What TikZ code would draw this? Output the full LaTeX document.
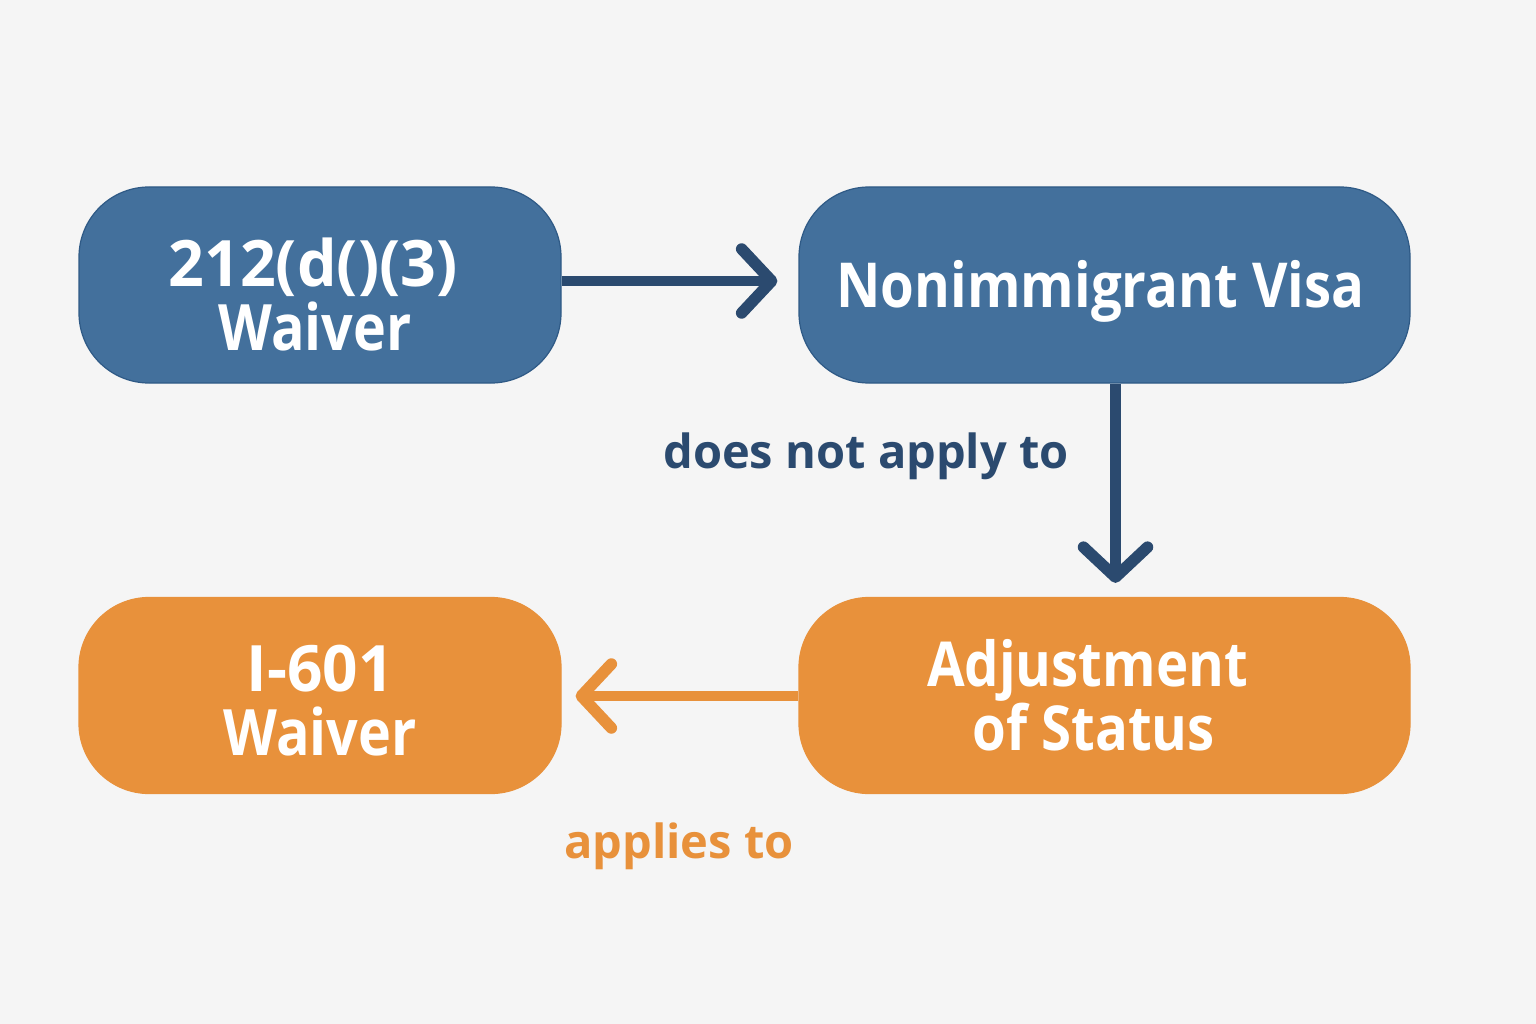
\documentclass[tikz,border=0pt]{standalone}
\usepackage{fontspec}
\setmainfont{Open Sans}
\usetikzlibrary{arrows.meta}
\definecolor{bg}{HTML}{F5F5F5}
\definecolor{boxblue}{HTML}{43709C}
\definecolor{boxblueedge}{HTML}{2F5A86}
\definecolor{boxorange}{HTML}{E8913B}
\definecolor{navy}{HTML}{2B4A6F}
\definecolor{orangeline}{HTML}{E8913B}
\newcommand{\sqz}[2]{\scalebox{#1}[1]{#2}}
\tikzset{
  boxbase/.style={rounded corners=70pt, minimum height=196pt, text=white, align=center, inner sep=0pt, text depth=0pt},
  bluebox/.style={boxbase, fill=boxblue, draw=boxblueedge, line width=1.2pt},
  orangebox/.style={boxbase, fill=boxorange, draw=boxorange, line width=1.2pt},
  conn/.style={line width=10.5pt, -{Straight Barb[length=30pt,width=64pt,line width=11.5pt,line cap=round,round]}},
  lbl/.style={font=\fontsize{47}{50}\selectfont\bfseries, inner sep=0pt},
  narrowtxt/.style={font=\fontsize{64}{64}\selectfont\bfseries},
  widetxt/.style={font=\fontsize{62}{62}\selectfont\bfseries}
}
\begin{document}
\begin{tikzpicture}[x=1pt,y=-1pt]
\fill[bg] (0,0) rectangle (1536,1024);
\useasboundingbox (0,0) rectangle (1536,1024);
\node[bluebox, minimum width=482pt, narrowtxt, text height=130pt] (a) at (320,285) {\hspace*{-14pt}\sqz{0.98}{212(d()(3)}\\\hspace*{-10pt}\sqz{0.87}{Waiver}};
\node[bluebox, minimum width=611pt, widetxt, text height=44pt] (b) at (1104.5,285) {\hspace*{-8pt}\sqz{0.88}{Nonimmigrant Visa}};
\node[orangebox, minimum width=482pt, narrowtxt, text height=119pt] (c) at (320,695.5) {\sqz{0.97}{I-601}\\\sqz{0.87}{Waiver}};
\node[orangebox, minimum width=611pt, widetxt, text height=109pt] (d) at (1104.5,695.5) {\hspace*{-34pt}\sqz{0.88}{Adjustment}\\\hspace*{-22pt}\sqz{0.88}{of Status}};
\draw[conn, navy, shorten >=21pt] (a.east |- 0,281) -- (b.west |- 0,281);
\draw[conn, navy, shorten >=14pt] (b.south -| 1115.5,0) -- (d.north -| 1115.5,0);
\draw[conn, orangeline, shorten >=14pt] (d.west |- 0,696) -- (c.east |- 0,696);
\node[lbl, text=navy] (l1) at (866,456) {does not apply to};
\node[lbl, text=orangeline] (l2) at (679,846) {applies to};
\end{tikzpicture}
\end{document}
